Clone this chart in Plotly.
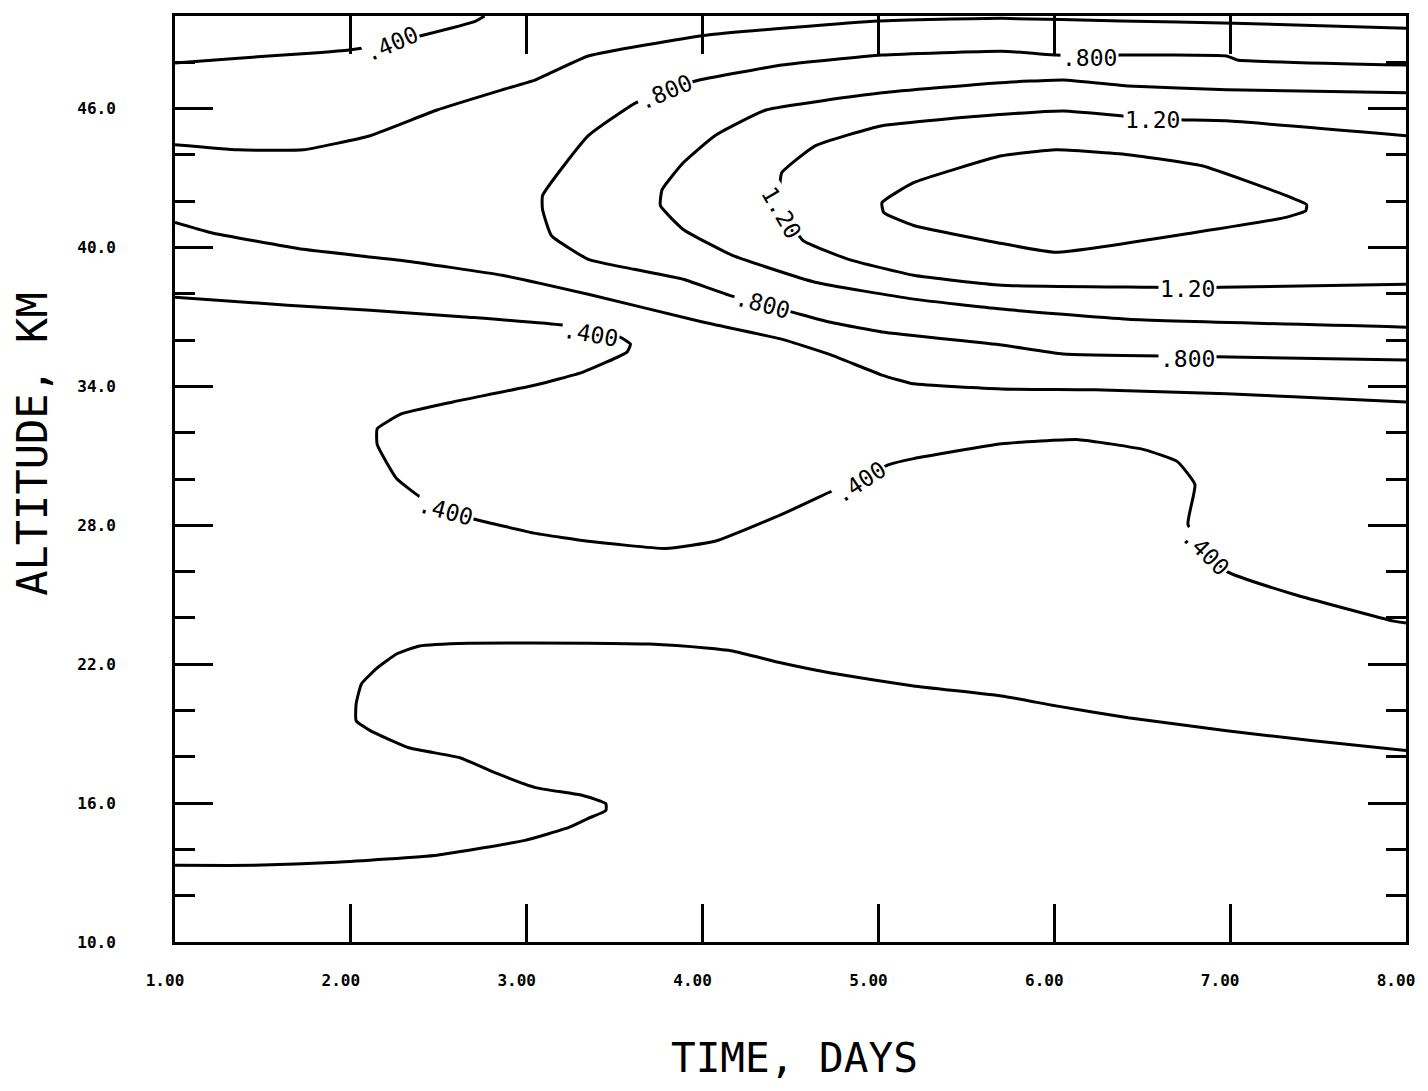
import plotly.graph_objects as go

# contour lines: time (days) vs altitude (km)
lvl_02_days = [1.0, 1.45, 1.92, 2.49, 2.99, 3.24, 3.35, 3.45, 3.45, 3.32, 3.05, 2.83, 2.62, 2.33, 2.11, 2.03, 2.03, 2.06,
               2.15, 2.26, 2.39, 2.67, 3.35, 3.70, 4.02, 4.17, 4.45, 4.73, 5.20, 5.70, 6.01, 6.42, 6.98, 7.46, 8.0]
lvl_02_km = [13.31, 13.31, 13.44, 13.75, 14.39, 14.95, 15.34, 15.68, 15.98, 16.33, 16.67, 17.28, 17.96, 18.39, 19.13,
             19.56, 20.29, 21.15, 21.84, 22.44, 22.79, 22.91, 22.91, 22.87, 22.70, 22.57, 22.05, 21.62, 21.06, 20.63,
             20.20, 19.69, 19.13, 18.70, 18.27]

lvl_04_days = [1.0, 1.64, 2.11, 2.67, 3.20, 3.36, 3.53, 3.59, 3.57, 3.32, 3.05, 2.58, 2.29, 2.15, 2.15, 2.26, 2.39, 2.53,
               2.71, 3.05, 3.35, 3.79, 4.07, 4.45, 4.73, 4.90, 5.06, 5.20, 5.70, 6.14, 6.51, 6.70, 6.80, 6.76, 6.86, 6.98,
               7.36, 7.93, 8.0]
lvl_04_km = [37.85, 37.51, 37.29, 36.99, 36.65, 36.35, 36.13, 35.83, 35.48, 34.62, 34.06, 33.33, 32.82, 32.17, 31.48,
             30.02, 29.24, 28.65, 28.25, 27.65, 27.31, 27.00, 27.31, 28.47, 29.46, 30.05, 30.62, 30.88, 31.52, 31.70,
             31.27, 30.75, 29.76, 28.04, 27.00, 26.01, 25.02, 23.86, 23.78]

lvl_04_top_days = [1.0, 1.36, 1.79, 1.99, 2.23, 2.41, 2.71, 2.76]
lvl_04_top_km = [47.97, 48.18, 48.40, 48.53, 48.85, 49.17, 49.78, 50.0]

lvl_06_top_days = [1.0, 1.36, 1.73, 2.11, 2.49, 2.86, 3.05, 3.35, 4.02, 5.0, 5.70, 6.38, 7.02, 8.0]
lvl_06_top_km = [44.44, 44.22, 44.22, 44.83, 45.94, 46.81, 47.24, 48.27, 49.17, 49.78, 49.90, 49.78, 49.69, 49.47]

lvl_06_days = [1.0, 1.20, 1.73, 2.29, 2.86, 3.35, 4.0, 4.45, 4.73, 5.02, 5.20, 5.70, 6.23, 6.98, 7.36, 8.0]
lvl_06_km = [41.08, 40.65, 39.92, 39.44, 38.80, 37.98, 36.78, 36.04, 35.36, 34.49, 34.11, 33.89, 33.85, 33.68, 33.55,
             33.33]

lvl_08_days = [8.0, 7.04, 6.98, 6.38, 6.20, 6.01, 5.70, 5.02, 4.45, 3.96, 3.79, 3.62, 3.35, 3.09, 3.09, 3.14, 3.35, 3.61,
               3.89, 4.15, 4.34, 4.51, 4.72, 5.02, 5.70, 6.05, 6.76, 8.0]
lvl_08_km = [47.88, 48.10, 48.27, 48.31, 48.25, 48.31, 48.48, 48.31, 47.88, 47.19, 46.72, 46.25, 44.83, 42.24, 41.64,
             40.52, 39.49, 39.06, 38.63, 37.94, 37.55, 37.21, 36.78, 36.35, 35.79, 35.40, 35.30, 35.14]

lvl_10_days = [8.0, 6.98, 6.42, 6.05, 5.67, 5.02, 4.36, 4.07, 3.89, 3.77, 3.76, 3.89, 4.17, 4.64, 5.20, 5.70, 6.42, 8.0]
lvl_10_km = [46.68, 46.81, 46.98, 47.24, 47.11, 46.68, 45.94, 44.83, 43.66, 42.50, 41.81, 40.78, 39.66, 38.50, 37.77,
             37.34, 36.90, 36.56]

lvl_12_days = [8.0, 6.98, 6.74, 6.56, 6.38, 6.05, 5.67, 5.02, 4.64, 4.45, 4.44, 4.47, 4.57, 4.83, 5.20, 5.70, 6.57,
               6.76, 6.95, 8.0]
lvl_12_km = [44.83, 45.47, 45.51, 45.55, 45.69, 45.90, 45.73, 45.26, 44.39, 43.23, 42.67, 41.51, 40.31, 39.49, 38.80,
             38.37, 38.28, 38.25, 38.28, 38.41]

lvl_14_days = [5.70, 6.01, 6.42, 6.84, 7.32, 7.435, 7.43, 7.31, 6.80, 6.01, 5.67, 5.20, 5.03, 5.02, 5.20, 5.70]
lvl_14_km = [43.96, 44.22, 44.01, 43.53, 42.24, 41.85, 41.59, 41.29, 40.65, 39.79, 40.22, 40.95, 41.51, 41.94, 42.80,
             43.96]

# in-line contour labels
label_text = [".400", ".800", ".800", "1.20", "1.20", ".800", "1.20", ".800", ".400", ".400", ".400", ".400"]
label_days = [2.23, 3.79, 6.20, 6.56, 4.45, 4.34, 6.76, 6.76, 3.36, 2.54, 4.90, 6.86]
label_km = [48.78, 46.70, 48.17, 45.51, 41.51, 37.55, 38.22, 35.20, 36.25, 28.60, 29.85, 26.85]
label_angle = [-23, -23, 0, 0, 60, 15, 0, 0, 10, 15, -33, 45]

x_ticks = [1, 2, 3, 4, 5, 6, 7, 8]
x_ticktext = ["1.00", "2.00", "3.00", "4.00", "5.00", "6.00", "7.00", "8.00"]
y_ticks = [10, 16, 22, 28, 34, 40, 46]
y_ticktext = ["10.0", "16.0", "22.0", "28.0", "34.0", "40.0", "46.0"]

lines = [
    (lvl_02_days, lvl_02_km),
    (lvl_04_days, lvl_04_km),
    (lvl_04_top_days, lvl_04_top_km),
    (lvl_06_top_days, lvl_06_top_km),
    (lvl_06_days, lvl_06_km),
    (lvl_08_days, lvl_08_km),
    (lvl_10_days, lvl_10_km),
    (lvl_12_days, lvl_12_km),
    (lvl_14_days, lvl_14_km),
]

fig = go.Figure()
for xs, ys in lines:
    fig.add_trace(go.Scatter(
        x=xs, y=ys, mode="lines",
        line=dict(color="black", width=3, shape="spline", smoothing=0.4),
        hoverinfo="skip", showlegend=False))

for txt, xd, yk, ang in zip(label_text, label_days, label_km, label_angle):
    fig.add_annotation(x=xd, y=yk, text=txt, textangle=ang, showarrow=False,
                       font=dict(family="DejaVu Sans Mono", size=23, color="black"),
                       bgcolor="white", borderpad=1)

fig.add_annotation(xref="paper", yref="paper", x=0, y=0.537, xshift=-142, textangle=-90,
                   xanchor="center", yanchor="middle",
                   text="ALTITUDE, KM", showarrow=False,
                   font=dict(family="DejaVu Sans Mono", size=42, color="black"))
fig.add_annotation(xref="paper", yref="paper", x=0.503, y=0, yshift=-116,
                   xanchor="center", yanchor="middle",
                   text="TIME, DAYS", showarrow=False,
                   font=dict(family="DejaVu Sans Mono", size=41, color="black"))

fig.update_xaxes(range=[1, 8], tickvals=x_ticks, ticktext=x_ticktext,
                 ticks="inside", ticklen=38, tickwidth=3, tickcolor="black",
                 showline=True, linewidth=3, linecolor="black", mirror="ticks",
                 showgrid=False, zeroline=False, ticklabelstandoff=22,
                 ticklabeloverflow="allow", ticklabelshift=-10,
                 tickfont=dict(family="DejaVu Sans Mono", size=16, color="black", weight="bold"))
fig.update_yaxes(range=[10, 50], tickvals=y_ticks, ticktext=y_ticktext,
                 ticks="inside", ticklen=38, tickwidth=3, tickcolor="black",
                 minor=dict(dtick=2, tick0=10, ticks="inside", ticklen=20, tickwidth=3, tickcolor="black"),
                 showline=True, linewidth=3, linecolor="black", mirror="ticks",
                 showgrid=False, zeroline=False, ticklabelstandoff=53,
                 tickfont=dict(family="DejaVu Sans Mono", size=16, color="black", weight="bold"))

# page body adds an 8px margin, so the figure is sized to fit inside the window
fig.update_layout(width=1412, height=1075, plot_bgcolor="white", paper_bgcolor="white",
                  margin=dict(l=167, r=6, t=5, b=141), showlegend=False)

fig.write_html("out.html")
